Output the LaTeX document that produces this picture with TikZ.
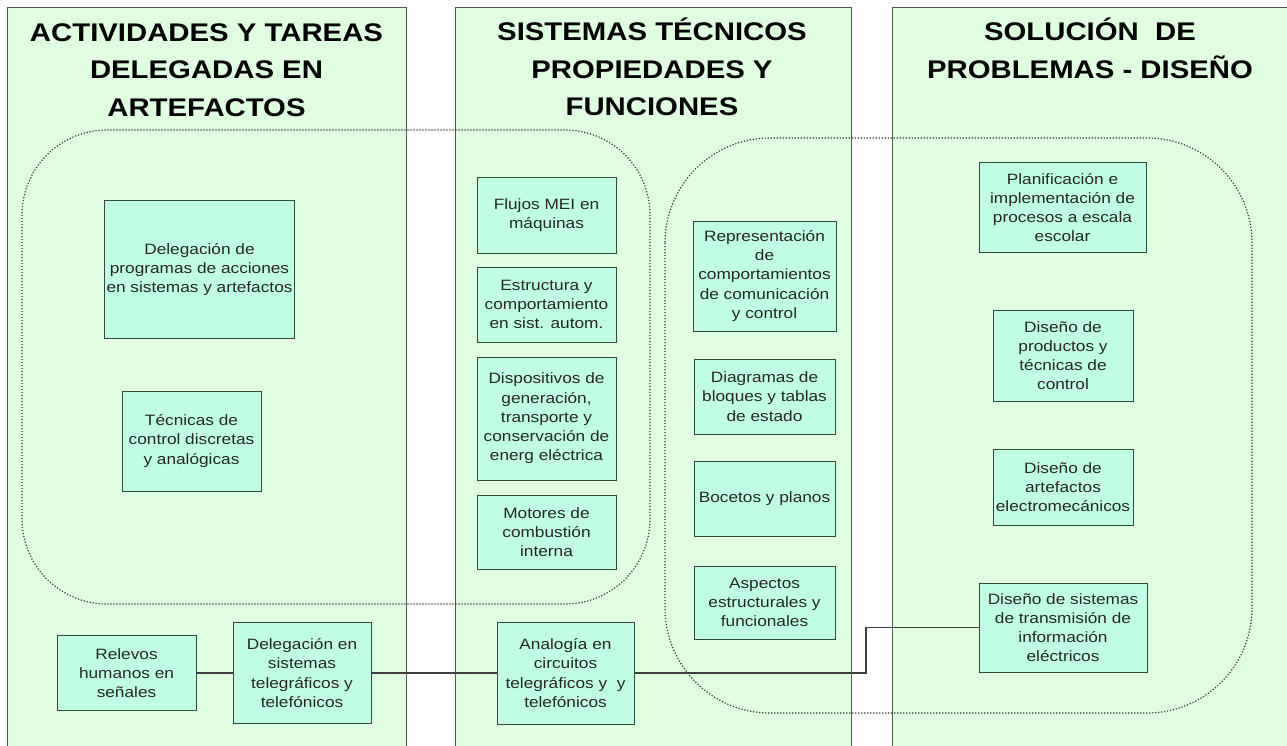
\documentclass[tikz,border=0pt]{standalone}
\usepackage{fontspec}
\setmainfont[FakeStretch=1.15]{Liberation Sans}
\definecolor{fondo}{RGB}{224,255,224}
\definecolor{cajaverde}{RGB}{192,255,228}
\definecolor{borde}{RGB}{52,72,62}
\definecolor{marco}{RGB}{88,88,88}
\newcommand{\titulo}{\fontsize{25.5}{37.5}\selectfont\bfseries}
\newcommand{\textocaja}{\fontsize{15}{19.2}\selectfont}

\begin{document}
\begin{tikzpicture}[x=1pt,y=-1pt]
  \tikzstyle{panel}=[draw=marco,fill=fondo,line width=1pt]
  \tikzstyle{grupo}=[draw=black!80,line width=1.2pt,dash pattern=on 1.2pt off 1.8pt]
  \tikzstyle{cabecera}=[font=\titulo,align=center,anchor=north,inner sep=0pt]
  \tikzstyle{tema}=[draw=borde,fill=cajaverde,line width=1pt,font=\textocaja,align=center,inner sep=2pt,text=black!85]
  \tikzstyle{enlace}=[draw=black!75,line width=1.4pt]
  \useasboundingbox (0,0) rectangle (1287,746);
  % columnas
  \path[panel] (7,8) rectangle (406,760);
  \path[panel] (455,8) rectangle (851,760);
  \path[panel] (892,8) rectangle (1300,760);
  \path (206.5,23) node[cabecera] (tit1) {ACTIVIDADES Y TAREAS\\DELEGADAS EN\\ARTEFACTOS};
  \path (652,18) node[cabecera] (tit2) {SISTEMAS TÉCNICOS\\PROPIEDADES Y\\FUNCIONES};
  \path (1090,18) node[cabecera] (tit3) {SOLUCIÓN\ \ DE\\PROBLEMAS - DISEÑO};
  % zonas punteadas
  \draw[grupo,rounded corners=85pt] (22,130) rectangle (650,604);
  \draw[grupo,rounded corners=105pt] (665,138) rectangle (1252,713);
  % cajas
  \path (199.5,269.5) node[tema,minimum width=189pt,minimum height=137pt] (delprog) {Delegación de\\programas de acciones\\en sistemas y artefactos};
  \path (191.5,441) node[tema,minimum width=139pt,minimum height=100pt] (tecnicas) {Técnicas de\\control discretas\\y analógicas};
  \path (126.5,673) node[tema,minimum width=139pt,minimum height=75pt] (relevos) {Relevos\\humanos en\\señales};
  \path (302,673) node[tema,minimum width=138pt,minimum height=101pt] (deltel) {Delegación en\\sistemas\\telegráficos y\\telefónicos};
  \path (546.5,215.5) node[tema,minimum width=139pt,minimum height=75pt] (flujos) {Flujos MEI en\\máquinas};
  \path (546.5,304.5) node[tema,minimum width=139pt,minimum height=75pt] (estructura) {Estructura y\\comportamiento\\en sist. autom.};
  \path (546.5,418.5) node[tema,minimum width=139pt,minimum height=123pt] (dispositivos) {Dispositivos de\\generación,\\transporte y\\conservación de\\energ eléctrica};
  \path (546.5,532) node[tema,minimum width=139pt,minimum height=74pt] (motores) {Motores de\\combustión\\interna};
  \path (565.5,673) node[tema,minimum width=137pt,minimum height=102pt] (analogia) {Analogía en\\circuitos\\telegráficos y\ \ y\\telefónicos};
  \path (764.5,276) node[tema,minimum width=143pt,minimum height=110pt] (repres) {Representación\\de\\comportamientos\\de comunicación\\y control};
  \path (764.5,396.5) node[tema,minimum width=141pt,minimum height=75pt] (diagramas) {Diagramas de\\bloques y tablas\\de estado};
  \path (764.5,498.5) node[tema,minimum width=141pt,minimum height=75pt] (bocetos) {Bocetos y planos};
  \path (764.5,602.5) node[tema,minimum width=141pt,minimum height=73pt] (aspectos) {Aspectos\\estructurales y\\funcionales};
  \path (1062.5,207.5) node[tema,minimum width=167pt,minimum height=89pt] (planif) {Planificación e\\implementación de\\procesos a escala\\escolar};
  \path (1063,355.5) node[tema,minimum width=140pt,minimum height=91pt] (disprod) {Diseño de\\productos y\\técnicas de\\control};
  \path (1063,487) node[tema,minimum width=140pt,minimum height=76pt] (disart) {Diseño de\\artefactos\\electromecánicos};
  \path (1063,627.5) node[tema,minimum width=168pt,minimum height=89pt] (distrans) {Diseño de sistemas\\de transmisión de\\información\\eléctricos};
  % conexiones
  \coordinate (codo) at (866,673);
  \draw[enlace] (relevos) -- (deltel)
                (deltel) -- (analogia)
                (analogia) -- (codo) |- (distrans);
\end{tikzpicture}
\end{document}
